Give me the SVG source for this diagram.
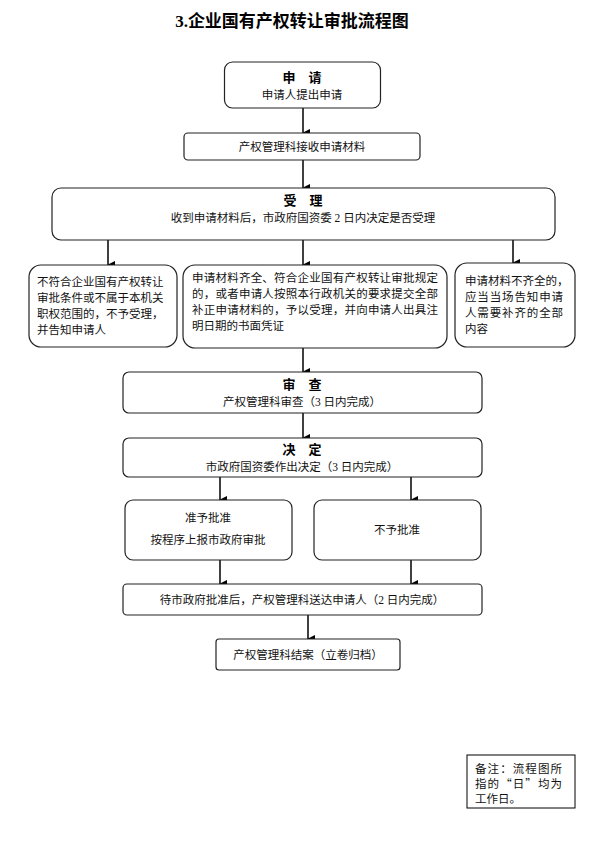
<svg xmlns="http://www.w3.org/2000/svg" width="590" height="853" viewBox="0 0 590 853">
<defs>
<marker id="ah" markerWidth="8" markerHeight="8" refX="4" refY="7" orient="auto" markerUnits="userSpaceOnUse" viewBox="0 0 8 8">
<path d="M0,0 L8,0 L4,8 Z" fill="#000"/>
</marker>
<style>
.b{fill:#fff;stroke:#222;stroke-width:1.2}
.t{font-family:"Liberation Serif","Noto Sans CJK SC",serif;font-size:11.5px;fill:#111}
.h{font-family:"Noto Sans CJK SC",sans-serif;font-size:13px;font-weight:bold;fill:#000}
.c{stroke:#000;stroke-width:1.5;fill:none;marker-end:url(#ah)}
</style>
</defs>
<rect width="590" height="853" fill="#fff"/>
<text x="292" y="27" text-anchor="middle" style="font-family:'Liberation Serif','Noto Sans CJK SC',serif;font-size:17px;font-weight:bold">3.企业国有产权转让审批流程图</text>

<g id="connectors">
<line class="c" x1="303" y1="108" x2="303" y2="133"/>
<line class="c" x1="303" y1="160" x2="303" y2="188"/>
<line class="c" x1="108" y1="240" x2="108" y2="265"/>
<line class="c" x1="303" y1="240" x2="303" y2="265"/>
<line class="c" x1="513" y1="240" x2="513" y2="263"/>
<line class="c" x1="303" y1="348" x2="303" y2="372"/>
<line class="c" x1="303" y1="413" x2="303" y2="438"/>
<line class="c" x1="220" y1="477" x2="220" y2="500"/>
<line class="c" x1="411" y1="477" x2="411" y2="500"/>
<line class="c" x1="220" y1="560" x2="220" y2="584"/>
<line class="c" x1="411" y1="560" x2="411" y2="584"/>
<line class="c" x1="308" y1="615" x2="308" y2="639"/>
</g>

<g id="apply">
<rect class="b" x="224.5" y="62" width="156" height="46" rx="8"/>
<text class="h" x="302" y="82" text-anchor="middle">申　请</text>
<text class="t" x="302" y="99" text-anchor="middle">申请人提出申请</text>
</g>

<g id="receive">
<rect class="b" x="184" y="133" width="236" height="27" rx="4"/>
<text class="t" x="302" y="151" text-anchor="middle">产权管理科接收申请材料</text>
</g>

<g id="accept">
<rect class="b" x="52" y="188" width="503" height="52" rx="9"/>
<text class="h" x="303" y="205" text-anchor="middle">受　理</text>
<text class="t" x="303" y="222" text-anchor="middle">收到申请材料后，市政府国资委 2 日内决定是否受理</text>
</g>

<g id="reject">
<rect class="b" x="29" y="265" width="148" height="82" rx="12"/>
<text class="t" x="37" y="286">不符合企业国有产权转让</text>
<text class="t" x="37" y="302">审批条件或不属于本机关</text>
<text class="t" x="37" y="318">职权范围的，不予受理，</text>
<text class="t" x="37" y="334">并告知申请人</text>
</g>

<g id="accepted">
<rect class="b" x="183" y="265" width="264" height="83" rx="12"/>
<text class="t" x="192" y="282" textLength="246">申请材料齐全、符合企业国有产权转让审批规定</text>
<text class="t" x="192" y="298" textLength="246">的，或者申请人按照本行政机关的要求提交全部</text>
<text class="t" x="192" y="314" textLength="246">补正申请材料的，予以受理，并向申请人出具注</text>
<text class="t" x="192" y="330">明日期的书面凭证</text>
</g>

<g id="incomplete">
<rect class="b" x="455" y="263" width="120" height="84" rx="12"/>
<text class="t" x="465" y="285">申请材料不齐全的，</text>
<text class="t" x="465" y="301" textLength="98">应当当场告知申请</text>
<text class="t" x="465" y="317" textLength="98">人需要补齐的全部</text>
<text class="t" x="465" y="333">内容</text>
</g>

<g id="review">
<rect class="b" x="123" y="372" width="359" height="41" rx="6"/>
<text class="h" x="302" y="389" text-anchor="middle">审　查</text>
<text class="t" x="302" y="406" text-anchor="middle">产权管理科审查（3 日内完成）</text>
</g>

<g id="decide">
<rect class="b" x="123" y="438" width="359" height="39" rx="6"/>
<text class="h" x="302" y="454" text-anchor="middle">决　定</text>
<text class="t" x="302" y="471" text-anchor="middle">市政府国资委作出决定（3 日内完成）</text>
</g>

<g id="approve">
<rect class="b" x="125" y="500" width="167" height="60" rx="8"/>
<text class="t" x="208" y="522" text-anchor="middle">准予批准</text>
<text class="t" x="208" y="544" text-anchor="middle">按程序上报市政府审批</text>
</g>

<g id="deny">
<rect class="b" x="314" y="500" width="167" height="60" rx="8"/>
<text class="t" x="397" y="534" text-anchor="middle">不予批准</text>
</g>

<g id="deliver">
<rect class="b" x="123" y="584" width="359" height="31" rx="4"/>
<text class="t" x="302" y="604" text-anchor="middle">待市政府批准后，产权管理科送达申请人（2 日内完成）</text>
</g>

<g id="close">
<rect class="b" x="216" y="639" width="184" height="31" rx="3"/>
<text class="t" x="308" y="659" text-anchor="middle">产权管理科结案（立卷归档）</text>
</g>

<g id="note">
<rect x="467" y="755" width="108" height="53" fill="#fff" stroke="#000" stroke-width="1"/>
<text class="t" x="475" y="773" textLength="87">备注：流程图所</text>
<text class="t" x="475" y="788" textLength="87" style="font-family:'Noto Sans CJK SC',sans-serif">指的“日”均为</text>
<text class="t" x="475" y="803">工作日。</text>
</g>
</svg>
